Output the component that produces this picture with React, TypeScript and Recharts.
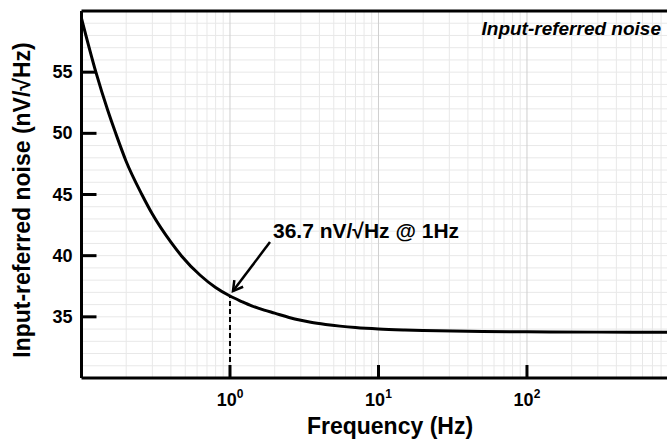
import { LineChart, Line, XAxis, YAxis, ReferenceLine, ReferenceDot } from "recharts";

const FONT = "'Liberation Sans', Arial, sans-serif";

// frequency (Hz) and input-referred noise (nV/√Hz)
const freq = [0.1, 0.125, 0.15, 0.17, 0.2, 0.255, 0.3, 0.4, 0.47, 0.63, 0.8, 1, 1.2, 1.4, 1.7, 2, 2.5, 3, 3.5, 4.4, 5.5, 7, 10, 15, 20, 50, 100, 300, 877];
const noise = [59.4, 55.0, 51.9, 50.0, 47.7, 45.0, 43.4, 41.1, 40.0, 38.4, 37.4, 36.7, 36.25, 35.9, 35.55, 35.3, 34.95, 34.72, 34.56, 34.38, 34.24, 34.12, 34.0, 33.92, 33.88, 33.8, 33.78, 33.75, 33.75];

const xTicks = [1, 10, 100];
const yTicks = [35, 40, 45, 50, 55];
const xMajorGrid = [1, 10, 100];
const xMinorGrid = [0.2, 0.3, 0.4, 0.5, 0.6, 0.7, 0.8, 0.9, 2, 3, 4, 5, 6, 7, 8, 9, 20, 30, 40, 50, 60, 70, 80, 90, 200, 300, 400, 500, 600, 700, 800];
const yGrid = [31, 32, 33, 34, 35, 36, 37, 38, 39, 40, 41, 42, 43, 44, 45, 46, 47, 48, 49, 50, 51, 52, 53, 54, 55, 56, 57, 58, 59];

const markF = 1;
const markV = 36.7;

const data = freq.map((f, i) => ({ f, v: noise[i] }));

function YTick(props: any) {
  const { x, y, payload } = props;
  return (
    <g>
      <line x1={x} x2={x + 15} y1={y} y2={y} stroke="#000" strokeWidth={3} />
      <text x={x - 9} y={y + 6} textAnchor="end" fontSize={18} fontWeight="bold" fontFamily={FONT} fill="#000">
        {payload.value}
      </text>
    </g>
  );
}

function XTick(props: any) {
  const { x, y, payload } = props;
  const exp = Math.round(Math.log10(payload.value));
  return (
    <g>
      <line x1={x} x2={x} y1={y} y2={y - 13} stroke="#000" strokeWidth={3} />
      <text x={x} y={y + 28} textAnchor="middle" fontSize={18} fontWeight="bold" fontFamily={FONT} fill="#000">
        10
        <tspan fontSize={12} dy={-8}>{exp}</tspan>
      </text>
    </g>
  );
}

function YTitle() {
  return (
    <text x={30} y={200} transform="rotate(-90 30 200)" textAnchor="middle" fontSize={23} fontWeight="bold" fontFamily={FONT} fill="#000">
      Input-referred noise (nV/√Hz)
    </text>
  );
}

function XTitle() {
  return (
    <text x={390} y={434} textAnchor="middle" fontSize={23} fontWeight="bold" fontFamily={FONT} fill="#000">
      Frequency (Hz)
    </text>
  );
}

function TopBorder(p: any) {
  return (
    <g>
      <line x1={p.x1} x2={p.x2} y1={p.y1} y2={p.y2} stroke="#000" strokeWidth={3} />
      <text x={p.x2 - 6} y={p.y1 + 24} textAnchor="end" fontSize={19} fontWeight="bold" fontStyle="italic" fontFamily={FONT} fill="#000">
        Input-referred noise
      </text>
    </g>
  );
}

function Callout(p: any) {
  const { cx, cy } = p;
  const tx = cx + 3;
  const ty = cy - 5;
  const sx = cx + 40;
  const sy = cy - 54;
  const len = Math.hypot(tx - sx, ty - sy);
  const ux = (tx - sx) / len;
  const uy = (ty - sy) / len;
  const w = 11;
  const a = Math.PI / 6;
  const w1x = tx - w * (ux * Math.cos(a) - uy * Math.sin(a));
  const w1y = ty - w * (uy * Math.cos(a) + ux * Math.sin(a));
  const w2x = tx - w * (ux * Math.cos(a) + uy * Math.sin(a));
  const w2y = ty - w * (uy * Math.cos(a) - ux * Math.sin(a));
  return (
    <g>
      <line x1={sx} y1={sy} x2={tx} y2={ty} stroke="#000" strokeWidth={2.5} />
      <polyline points={`${w1x},${w1y} ${tx},${ty} ${w2x},${w2y}`} fill="none" stroke="#000" strokeWidth={2.5} />
      <text x={cx + 43} y={cy - 58} fontSize={21} fontWeight="bold" fontFamily={FONT} fill="#000">
        {`${markV} nV/√Hz @ ${markF}Hz`}
      </text>
    </g>
  );
}

export default function App() {
  return (
    <div style={{ position: "absolute", left: 0, top: 0, background: "#fff" }}>
      <LineChart width={667} height={446} data={data} margin={{ top: 11, right: 0, bottom: 0, left: 0 }}>
        {yGrid.map((v) => (
          <ReferenceLine key={"h" + v} y={v} stroke="#e8e8e8" strokeWidth={1} />
        ))}
        {xMinorGrid.map((v) => (
          <ReferenceLine key={"m" + v} x={v} stroke="#e8e8e8" strokeWidth={1} />
        ))}
        {xMajorGrid.map((v) => (
          <ReferenceLine key={"M" + v} x={v} stroke="#cfcfcf" strokeWidth={1} />
        ))}
        <XAxis
          dataKey="f"
          type="number"
          scale="log"
          domain={[0.1, 877]}
          allowDataOverflow
          ticks={xTicks}
          interval={0}
          height={68}
          tickSize={0}
          tickMargin={0}
          tickLine={false}
          axisLine={{ stroke: "#000", strokeWidth: 3 }}
          tick={<XTick />}
          label={<XTitle />}
        />
        <YAxis
          type="number"
          domain={[30, 60]}
          allowDataOverflow
          ticks={yTicks}
          interval={0}
          width={81.5}
          tickSize={0}
          tickMargin={0}
          tickLine={false}
          axisLine={{ stroke: "#000", strokeWidth: 3 }}
          tick={<YTick />}
          label={<YTitle />}
        />
        <ReferenceLine y={60} shape={TopBorder} />
        <ReferenceLine
          segment={[
            { x: markF, y: 30 },
            { x: markF, y: markV },
          ]}
          stroke="#000"
          strokeWidth={2}
          strokeDasharray="5 3"
        />
        <Line type="monotone" dataKey="v" stroke="#000" strokeWidth={3} dot={false} isAnimationActive={false} />
        <ReferenceDot x={markF} y={markV} r={0} shape={Callout} />
      </LineChart>
    </div>
  );
}
